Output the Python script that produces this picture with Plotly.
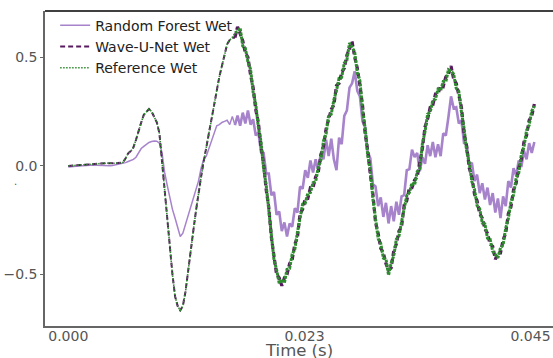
import numpy as np
import plotly.graph_objects as go

# ---- data ----
n_samples = 180
sample_step_s = 0.00025
time_s = np.arange(n_samples) * sample_step_s

random_forest_wet = [
    -0.005, -0.005, -0.004, -0.002, 0.000, 0.001, 0.002, 0.003, 0.004, 0.005,
    0.004, 0.003, 0.002, 0.001, 0.000, 0.000, 0.001, 0.002, 0.004, 0.006,
    0.008, 0.010, 0.015, 0.020, 0.025, 0.030, 0.040, 0.060, 0.080, 0.090,
    0.100, 0.108, 0.112, 0.115, 0.114, 0.105, 0.060, -0.030, -0.090, -0.150,
    -0.200, -0.240, -0.280, -0.325, -0.310, -0.270, -0.220, -0.190, -0.150, -0.110,
    -0.070, -0.010, 0.030, 0.045, 0.080, 0.110, 0.150, 0.185, 0.190, 0.200,
    0.205, 0.210, 0.190, 0.228, 0.188, 0.232, 0.185, 0.245, 0.195, 0.255,
    0.190, 0.215, 0.140, 0.155, 0.065, 0.060, -0.035, -0.035, -0.135, -0.120,
    -0.225, -0.210, -0.300, -0.260, -0.325, -0.265, -0.280, -0.195, -0.215, -0.095,
    -0.105, -0.020, -0.055, 0.025, -0.030, 0.030, -0.020, 0.060, 0.030, 0.120,
    0.045, 0.125, 0.030, -0.020, 0.130, 0.100, 0.230, 0.255, 0.360, 0.380,
    0.435, 0.345, 0.320, 0.205, 0.180, 0.065, 0.035, -0.085, -0.095, -0.185,
    -0.145, -0.235, -0.170, -0.265, -0.185, -0.255, -0.165, -0.225, -0.140, -0.135,
    -0.020, -0.015, 0.075, 0.040, 0.060, -0.025, 0.040, 0.010, 0.095, 0.045,
    0.110, 0.040, 0.100, 0.045, 0.150, 0.140, 0.225, 0.320, 0.265, 0.270,
    0.195, 0.210, 0.105, 0.100, 0.005, 0.015, -0.070, -0.040, -0.125, -0.080,
    -0.155, -0.100, -0.180, -0.125, -0.215, -0.150, -0.240, -0.140, -0.185, -0.070,
    -0.100, -0.010, -0.045, 0.025, -0.005, 0.070, 0.030, 0.105, 0.060, 0.110,
]

wave_u_net_wet = [
    0.000, 0.001, 0.002, 0.003, 0.004, 0.003, 0.005, 0.006, 0.007, 0.008,
    0.009, 0.010, 0.011, 0.012, 0.012, 0.013, 0.012, 0.011, 0.012, 0.013,
    0.014, 0.016, 0.035, 0.058, 0.068, 0.085, 0.120, 0.165, 0.200, 0.235,
    0.250, 0.262, 0.250, 0.225, 0.200, 0.150, 0.020, -0.110, -0.260, -0.380,
    -0.500, -0.600, -0.645, -0.665, -0.645, -0.580, -0.480, -0.400, -0.300, -0.210,
    -0.120, -0.050, 0.020, 0.085, 0.160, 0.230, 0.290, 0.350, 0.410, 0.460,
    0.510, 0.560, 0.580, 0.590, 0.590, 0.640, 0.608, 0.576, 0.520, 0.500,
    0.418, 0.360, 0.258, 0.200, 0.090, 0.010, -0.110, -0.190, -0.330, -0.410,
    -0.500, -0.515, -0.552, -0.515, -0.500, -0.450, -0.430, -0.360, -0.330, -0.220,
    -0.200, -0.150, -0.150, -0.100, -0.100, -0.050, -0.030, 0.050, 0.090, 0.170,
    0.210, 0.260, 0.280, 0.370, 0.380, 0.430, 0.450, 0.510, 0.540, 0.572,
    0.500, 0.450, 0.370, 0.280, 0.150, 0.070, -0.040, -0.130, -0.260, -0.310,
    -0.380, -0.400, -0.450, -0.480, -0.470, -0.390, -0.360, -0.300, -0.280, -0.180,
    -0.160, -0.100, -0.100, -0.065, -0.050, 0.010, 0.080, 0.180, 0.215, 0.270,
    0.280, 0.330, 0.330, 0.370, 0.365, 0.410, 0.420, 0.460, 0.400, 0.380,
    0.320, 0.270, 0.150, 0.090, -0.010, -0.050, -0.130, -0.160, -0.220, -0.240,
    -0.290, -0.310, -0.360, -0.370, -0.430, -0.400, -0.400, -0.340, -0.310, -0.220,
    -0.190, -0.110, -0.080, -0.010, 0.030, 0.110, 0.140, 0.210, 0.230, 0.285,
]

reference_wet = [
    0.000, 0.001, 0.002, 0.003, 0.004, 0.003, 0.005, 0.006, 0.007, 0.008,
    0.009, 0.010, 0.011, 0.012, 0.012, 0.013, 0.012, 0.011, 0.012, 0.013,
    0.014, 0.016, 0.035, 0.058, 0.068, 0.085, 0.120, 0.165, 0.200, 0.235,
    0.250, 0.262, 0.250, 0.225, 0.200, 0.150, 0.020, -0.110, -0.260, -0.380,
    -0.500, -0.600, -0.645, -0.665, -0.645, -0.580, -0.480, -0.400, -0.300, -0.210,
    -0.120, -0.050, 0.020, 0.085, 0.160, 0.230, 0.290, 0.350, 0.410, 0.460,
    0.510, 0.560, 0.580, 0.590, 0.612, 0.618, 0.635, 0.552, 0.541, 0.478,
    0.445, 0.338, 0.284, 0.178, 0.113, -0.012, -0.088, -0.214, -0.306, -0.433,
    -0.478, -0.540, -0.522, -0.538, -0.476, -0.472, -0.406, -0.384, -0.306, -0.244,
    -0.176, -0.172, -0.126, -0.123, -0.077, -0.073, -0.006, 0.027, 0.114, 0.147,
    0.234, 0.238, 0.304, 0.347, 0.404, 0.408, 0.474, 0.487, 0.566, 0.547,
    0.523, 0.428, 0.392, 0.258, 0.173, 0.048, -0.017, -0.153, -0.237, -0.334,
    -0.357, -0.424, -0.428, -0.503, -0.447, -0.414, -0.337, -0.323, -0.257, -0.204,
    -0.137, -0.123, -0.078, -0.088, -0.027, -0.013, 0.103, 0.157, 0.238, 0.247,
    0.303, 0.307, 0.353, 0.347, 0.388, 0.387, 0.443, 0.437, 0.423, 0.357,
    0.343, 0.247, 0.173, 0.067, 0.013, -0.073, -0.107, -0.183, -0.197, -0.263,
    -0.267, -0.333, -0.337, -0.393, -0.407, -0.423, -0.377, -0.363, -0.287, -0.243,
    -0.167, -0.133, -0.057, -0.033, 0.053, 0.087, 0.163, 0.187, 0.253, 0.276,
]

# index where the signals become noisy (dense band in the reference)
noisy_start = 64

x_tick_values = [0.0, 0.02268, 0.04438]
x_tick_labels = ["0.000", "0.023", "0.045"]
y_tick_values = [-0.5, 0.0, 0.5]
y_tick_labels = ["\u22120.5", "0.0", "0.5"]
x_title = "Time (s)"

FONT = "DejaVu Sans"
RF_COLOR = "#a683cb"
WUN_COLOR = "#571a5e"
REF_COLOR = "#2e8b2e"

fig = go.Figure()
# Random forest: smooth part + noisy band part
fig.add_trace(go.Scatter(
    x=time_s[:noisy_start + 1], y=random_forest_wet[:noisy_start + 1], mode="lines",
    name="Random Forest Wet", legendgroup="rf",
    line=dict(color=RF_COLOR, width=1.5),
))
fig.add_trace(go.Scatter(
    x=time_s[noisy_start:], y=random_forest_wet[noisy_start:], mode="lines",
    name="Random Forest Wet", legendgroup="rf", showlegend=False,
    line=dict(color=RF_COLOR, width=2.6),
))
# Wave-U-Net
fig.add_trace(go.Scatter(
    x=time_s[:noisy_start + 1], y=wave_u_net_wet[:noisy_start + 1], mode="lines",
    name="Wave-U-Net Wet", legendgroup="wun",
    line=dict(color=WUN_COLOR, width=2, dash="5px,3px"),
))
fig.add_trace(go.Scatter(
    x=time_s[noisy_start:], y=wave_u_net_wet[noisy_start:], mode="lines",
    name="Wave-U-Net Wet", legendgroup="wun", showlegend=False,
    line=dict(color=WUN_COLOR, width=3.2, dash="5px,3px"),
))
# Reference
fig.add_trace(go.Scatter(
    x=time_s[:noisy_start + 1], y=reference_wet[:noisy_start + 1], mode="lines",
    name="Reference Wet", legendgroup="ref",
    line=dict(color=REF_COLOR, width=1.6, dash="1.5px,1.5px"),
))
fig.add_trace(go.Scatter(
    x=time_s[noisy_start:], y=reference_wet[noisy_start:], mode="lines",
    name="Reference Wet", legendgroup="ref", showlegend=False,
    line=dict(color=REF_COLOR, width=3.0, dash="3px,1px"),
))

fig.update_layout(
    width=553, height=358,
    margin=dict(l=45, r=0, t=11, b=32),
    paper_bgcolor="white", plot_bgcolor="white",
    font=dict(family=FONT, size=14, color="#555555"),
    showlegend=True,
    legend=dict(
        x=0.02, y=1.004, xanchor="left", yanchor="top",
        bgcolor="rgba(0,0,0,0)", borderwidth=0,
        font=dict(family=FONT, size=14, color="#222222"),
        itemwidth=30, tracegroupgap=0,
    ),
    xaxis=dict(
        range=[-0.002237, 0.04654],
        tickmode="array", tickvals=x_tick_values, ticktext=x_tick_labels,
        showgrid=False, zeroline=False,
        showline=True, linecolor="#666666", linewidth=1.5,
        ticks="", tickfont=dict(size=14, color="#555555"),
        ticklabelstandoff=-4,
    ),
    yaxis=dict(
        range=[-0.737, 0.713],
        tickmode="array", tickvals=y_tick_values, ticktext=y_tick_labels,
        showgrid=False, zeroline=False,
        showline=True, linecolor="#666666", linewidth=1.5,
        ticks="outside", ticklen=3, tickcolor="#666666",
        tickfont=dict(size=14, color="#555555"),
    ),
    shapes=[dict(type="line", xref="paper", yref="paper", x0=0, x1=1, y0=1, y1=1,
                 line=dict(color="black", width=1.5))],
    annotations=[
        dict(text=".", xref="paper", yref="paper", x=-0.059, y=0.46,
             xanchor="center", yanchor="middle", showarrow=False,
             font=dict(size=10, color="#555555")),
        dict(text=x_title, xref="paper", yref="paper", x=0.5, y=-0.041,
             xanchor="center", yanchor="top", showarrow=False,
             font=dict(size=16.5, color="#555555")),
    ],
)

fig.write_html("out.html")
